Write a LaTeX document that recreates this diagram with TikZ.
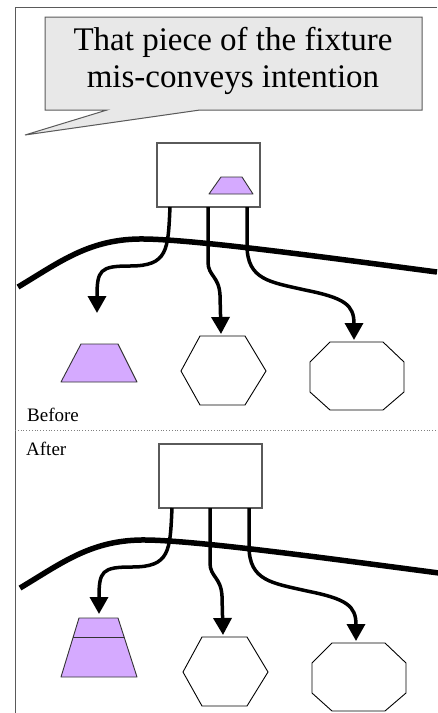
\documentclass[tikz,border=0pt]{standalone}
\usepackage{fontspec}
\setmainfont{Liberation Serif}
\usetikzlibrary{arrows.meta}
\definecolor{lav}{RGB}{213,170,255}
\definecolor{bubble}{RGB}{232,232,232}
\definecolor{edge}{RGB}{90,90,90}
\tikzset{
  fixbox/.style={draw=edge, fill=white, line width=1.2pt, minimum width=103pt, minimum height=64pt, inner sep=0pt},
  piece/.style={draw=black!80, line width=0.9pt, fill=lav, line join=round},
  outline/.style={draw=black, line width=0.9pt},
  boundary/.style={line width=5.5pt},
  conn/.style={line width=3.5pt, -{Triangle[length=17pt,width=18pt]}},
}
\begin{document}
\begin{tikzpicture}[x=1pt, y=-1pt]
\useasboundingbox (0,0) rectangle (437,713);
% frame and separator
\draw[edge, line width=1pt] (437,7) -- (15,7) -- (15,713);
\draw[gray, dotted, line width=0.8pt] (15,430) -- (437,430);
% speech bubble
\draw[fill=bubble, draw=edge, line width=1pt] (45,17) -- (422,17) -- (422,110) -- (200,110) -- (25,135) -- (107,110) -- (45,110) -- cycle;
\node[align=center, inner sep=0pt, font=\fontsize{33}{37}\selectfont] (note) at (233,61) {That piece of the fixture\\mis-conveys intention};

% both panels: b = before, a = after
\foreach \p/\dx/\dy in {b/0/0, a/2/301}{
  \begin{scope}[shift={(\dx,\dy)}]
  \node[fixbox] (\p box) at (208.5,175) {};
  \coordinate (\p s1) at (170,207);
  \coordinate (\p s2) at (208,207);
  \coordinate (\p s3) at (247,207);
  \coordinate (\p t1) at (97,313);
  \coordinate (\p t2) at (221,334);
  \coordinate (\p t3) at (354,340);
  \draw[boundary] (18,287) .. controls (60,262) and (90,238) .. (145,239) .. controls (200,240) and (330,258) .. (437,272);
  \draw[conn] (\p s1) .. controls (168,250) and (168,266) .. (130,266) .. controls (100,266) and (97,270) .. (\p t1);
  \draw[conn] (\p s2) -- (208,262) .. controls (208,276) and (219,276) .. (220,295) -- (\p t2);
  \draw[conn] (\p s3) -- (247,245) .. controls (247,280) and (270,282) .. (305,290) .. controls (345,298) and (354,305) .. (\p t3);
  % hexagon and octagon
  \draw[outline] (181,371) -- (200,336) -- (245,336) -- (266,371) -- (245,405) -- (200,405) -- cycle;
  \draw[outline] (330,342) -- (383,342) -- (404,362) -- (404,392) -- (383,410) -- (330,410) -- (310,392) -- (310,362) -- cycle;
  \end{scope}
}

% trapezoids
\draw[piece] (221,177) -- (242,177) -- (253,194) -- (209,194) -- cycle;
\draw[piece] (81,344) -- (118,344) -- (137,382) -- (61,382) -- cycle;
\draw[piece] (79,618) -- (118,618) -- (137,677) -- (61,677) -- cycle;
\draw[draw=black!80, line width=0.9pt] (73,637) -- (124,637);

\node[anchor=base west, inner sep=0pt, font=\fontsize{19}{22}\selectfont] (before) at (27,421) {Before};
\node[anchor=base west, inner sep=0pt, font=\fontsize{19}{22}\selectfont] (after) at (26,455) {After};
\end{tikzpicture}
\end{document}
